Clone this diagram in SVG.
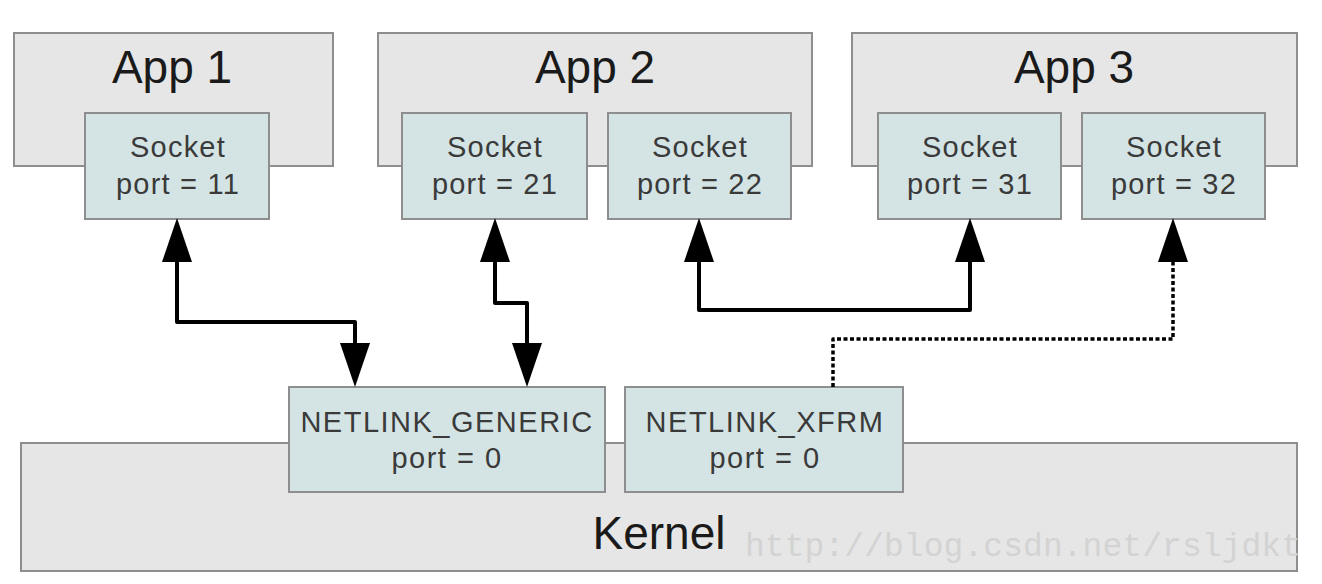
<svg xmlns="http://www.w3.org/2000/svg" width="1322" height="584" viewBox="0 0 1322 584">
<style>
.big{fill:#e6e6e6;stroke:#8e8e8e;stroke-width:2}
.sock{fill:#d4e4e4;stroke:#8e8e8e;stroke-width:2}
.title{font-family:"Liberation Sans",Arial,sans-serif;font-size:46px;fill:#1a1a1a;text-anchor:middle}
.lbl{font-family:"Liberation Sans",Arial,sans-serif;font-size:29px;fill:#3a3a3a;text-anchor:middle;letter-spacing:1.2px}
.nl{font-family:"Liberation Sans",Arial,sans-serif;font-size:29px;fill:#3a3a3a;text-anchor:middle;letter-spacing:1.5px}
.conn{fill:none;stroke:#000;stroke-width:4;stroke-linejoin:round}
.dot{stroke-dasharray:4 2.5;stroke-width:3.5}
.wm{font-family:"Liberation Mono","Courier New",monospace;font-size:33px;fill:#d3d3d3}
</style>
<defs>
<marker id="ah" markerUnits="userSpaceOnUse" markerWidth="46" markerHeight="32" viewBox="0 -16 46 32" refX="0" refY="0" orient="auto-start-reverse">
<path d="M0,-15 L44,0 L0,15 z" fill="#000"/>
</marker>
</defs>
<g id="kernel">
<rect class="big" x="21" y="443" width="1276" height="128"/>
<text class="title" x="659" y="549">Kernel</text>
<text class="wm" x="745" y="556" textLength="556" lengthAdjust="spacing">http://blog.csdn.net/rsljdkt</text>
</g>
<g id="app1">
<rect class="big" x="14" y="33" width="319" height="133"/>
<text class="title" x="172" y="83">App 1</text>
</g>
<g id="app2">
<rect class="big" x="378" y="33" width="434" height="133"/>
<text class="title" x="595" y="83">App 2</text>
</g>
<g id="app3">
<rect class="big" x="852" y="33" width="445" height="133"/>
<text class="title" x="1074" y="83">App 3</text>
</g>
<g id="sock11">
<rect class="sock" x="85" y="113" width="184" height="106"/>
<text class="lbl" x="178" y="157">Socket</text>
<text class="lbl" x="178" y="194">port = 11</text>
</g>
<g id="sock21">
<rect class="sock" x="402" y="113" width="185" height="106"/>
<text class="lbl" x="495" y="157">Socket</text>
<text class="lbl" x="495" y="194">port = 21</text>
</g>
<g id="sock22">
<rect class="sock" x="608" y="113" width="183" height="106"/>
<text class="lbl" x="700" y="157">Socket</text>
<text class="lbl" x="700" y="194">port = 22</text>
</g>
<g id="sock31">
<rect class="sock" x="878" y="113" width="183" height="106"/>
<text class="lbl" x="970" y="157">Socket</text>
<text class="lbl" x="970" y="194">port = 31</text>
</g>
<g id="sock32">
<rect class="sock" x="1082" y="113" width="183" height="106"/>
<text class="lbl" x="1174" y="157">Socket</text>
<text class="lbl" x="1174" y="194">port = 32</text>
</g>
<g id="nl_generic">
<rect class="sock" x="289" y="387" width="316" height="105"/>
<text class="nl" x="447" y="432">NETLINK_GENERIC</text>
<text class="nl" x="447" y="468">port = 0</text>
</g>
<g id="nl_xfrm">
<rect class="sock" x="625" y="387" width="278" height="105"/>
<text class="nl" x="765" y="432">NETLINK_XFRM</text>
<text class="nl" x="765" y="468">port = 0</text>
</g>
<g id="connectors">
<path class="conn" d="M177,262 V322 H355 V343" marker-start="url(#ah)" marker-end="url(#ah)"/>
<path class="conn" d="M495,262 V303 H527 V343" marker-start="url(#ah)" marker-end="url(#ah)"/>
<path class="conn" d="M699,262 V310 H970 V262" marker-start="url(#ah)" marker-end="url(#ah)"/>
<path class="conn dot" d="M833,387 V339 H1173 V262" marker-end="url(#ah)"/>
</g>
</svg>
